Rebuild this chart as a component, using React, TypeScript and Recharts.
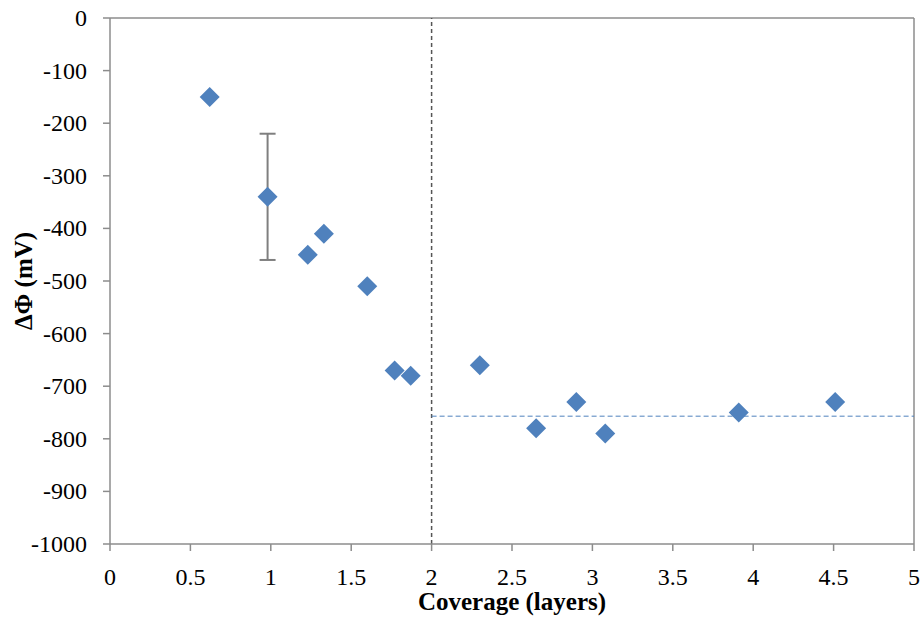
import React from 'react';
import { ScatterChart, Scatter, XAxis, YAxis, ReferenceLine, ErrorBar } from 'recharts';

const coverage = [0.62, 0.98, 1.23, 1.33, 1.6, 1.77, 1.87, 2.3, 2.65, 2.9, 3.08, 3.91, 4.51];
const deltaPhi = [-150, -340, -450, -410, -510, -670, -680, -660, -780, -730, -790, -750, -730];
const errors = [0, 120, 0, 0, 0, 0, 0, 0, 0, 0, 0, 0, 0];
const xTicks = [0, 0.5, 1, 1.5, 2, 2.5, 3, 3.5, 4, 4.5, 5];
const yTicks = [0, -100, -200, -300, -400, -500, -600, -700, -800, -900, -1000];
const plateauValue = -757;
const plateauStart = 2;
const plateauEnd = 5;

const data = coverage.map((x, i) => ({ x, y: deltaPhi[i], err: errors[i] || undefined }));

const FONT = 'Liberation Serif';
const AXIS = '#8c8c8c';
const BLUE = '#4F81BD';

const Diamond = (props: any) => {
  const { cx, cy } = props;
  if (cx == null || cy == null) return null;
  const r = 10;
  return (
    <polygon
      points={`${cx},${cy - r} ${cx + r},${cy} ${cx},${cy + r} ${cx - r},${cy}`}
      fill={BLUE}
    />
  );
};

const XTick = (props: any) => {
  const { x, y, payload } = props;
  return (
    <text x={x} y={y} dy={17} textAnchor="middle" fill="#000" style={{ fontFamily: FONT, fontSize: 24 }}>
      {String(payload.value)}
    </text>
  );
};

const YTick = (props: any) => {
  const { x, y, payload } = props;
  return (
    <text x={x} y={y} dy={8} textAnchor="end" fill="#000" style={{ fontFamily: FONT, fontSize: 24 }}>
      {String(payload.value)}
    </text>
  );
};

const YLabel = (props: any) => {
  const vb = props.viewBox || {};
  const x = (vb.x || 0) + 23;
  const y = (vb.y || 0) + (vb.height || 0) / 2;
  return (
    <g transform={`translate(${x}, ${y}) rotate(-90)`}>
      <text x={0} y={9} textAnchor="middle" fill="#000" style={{ fontFamily: FONT, fontWeight: 'bold', fontSize: 25 }}>
        ΔΦ (mV)
      </text>
    </g>
  );
};

const XLabel = (props: any) => {
  const vb = props.viewBox || {};
  const x = (vb.x || 0) + (vb.width || 0) / 2;
  const y = (vb.y || 0) + 66;
  return (
    <text x={x} y={y} textAnchor="middle" fill="#000" style={{ fontFamily: FONT, fontWeight: 'bold', fontSize: 25 }}>
      Coverage (layers)
    </text>
  );
};

export default function App() {
  return (
    <div style={{ position: 'absolute', left: 0, top: 0, width: 924, height: 617, background: '#fff', fontFamily: FONT }}>
      <ScatterChart width={924} height={617} margin={{ top: 18, right: 10, bottom: 0, left: 0 }} style={{ fontFamily: FONT }}>
        <XAxis
          type="number"
          dataKey="x"
          domain={[0, 5]}
          ticks={xTicks}
          interval={0}
          height={73}
          stroke={AXIS}
          strokeWidth={1.5}
          tickSize={7}
          tickMargin={17}
          tick={<XTick />}
          tickLine={{ stroke: AXIS }}
          label={<XLabel />}
        />
        <YAxis
          type="number"
          dataKey="y"
          domain={[-1000, 0]}
          ticks={yTicks}
          interval={0}
          width={110}
          stroke={AXIS}
          strokeWidth={1.5}
          tickSize={7}
          tickMargin={16}
          tick={<YTick />}
          tickLine={{ stroke: AXIS }}
          label={<YLabel />}
        />
        <ReferenceLine y={0} stroke={AXIS} strokeWidth={1.5} />
        <ReferenceLine x={5} stroke={AXIS} strokeWidth={1.5} />
        <ReferenceLine x={plateauStart} stroke="#555" strokeWidth={1.5} strokeDasharray="4 3" />
        <ReferenceLine
          segment={[{ x: plateauStart, y: plateauValue }, { x: plateauEnd, y: plateauValue }]}
          stroke={BLUE}
          strokeWidth={1}
          strokeDasharray="5 3"
        />
        <Scatter data={data} shape={<Diamond />} isAnimationActive={false}>
          <ErrorBar dataKey="err" direction="y" stroke="#7f7f7f" strokeWidth={2} width={8} />
        </Scatter>
      </ScatterChart>
    </div>
  );
}
